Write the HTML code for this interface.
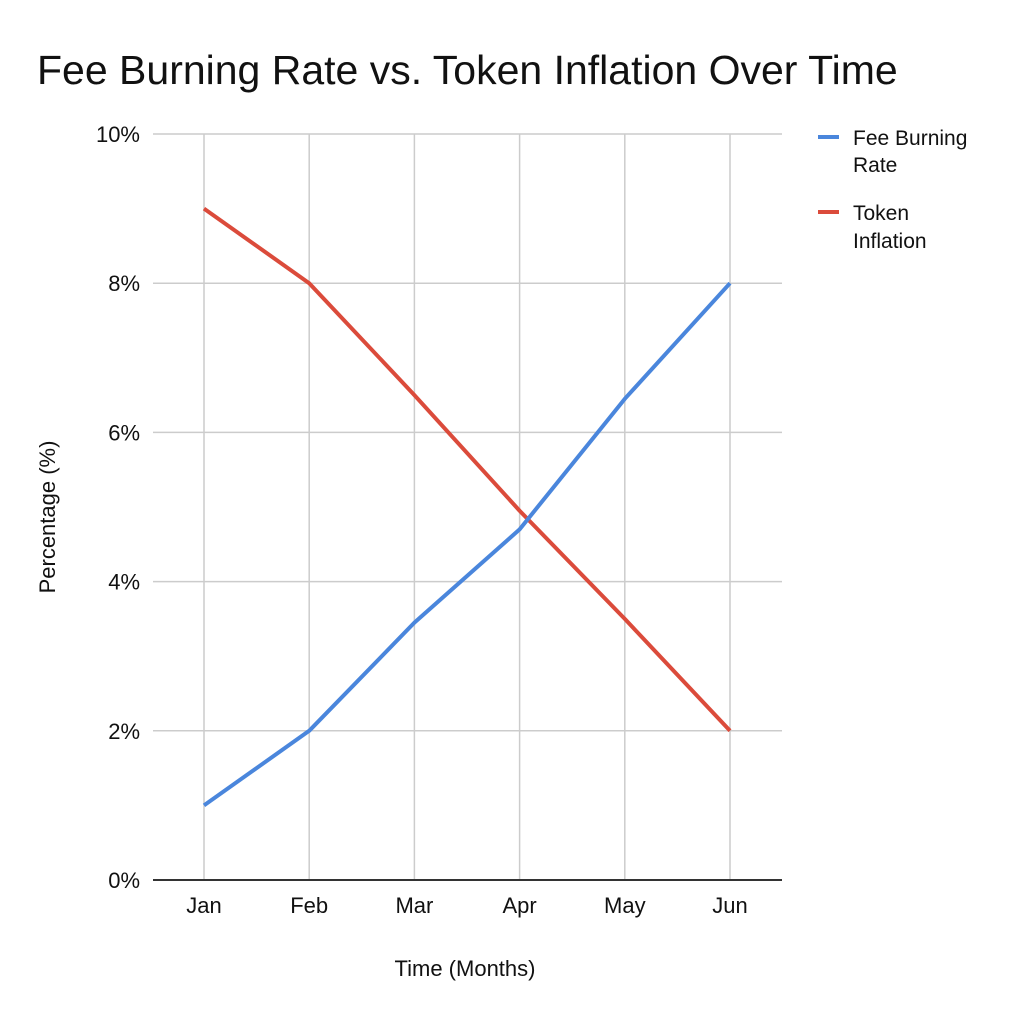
<!DOCTYPE html>
<html><head><meta charset="utf-8"><style>
body{margin:0;background:#fff;}
svg text{font-family:"Liberation Sans",Arial,sans-serif;fill:#111;}
</style></head><body>
<svg id="chart" width="1024" height="1024" xmlns="http://www.w3.org/2000/svg">
<rect width="1024" height="1024" fill="#fff"/>
<text x="37" y="84" font-size="41">Fee Burning Rate vs. Token Inflation Over Time</text>
<g id="grid"></g>
<g id="series"></g>
<text transform="translate(55,517) rotate(-90)" text-anchor="middle" font-size="22">Percentage (%)</text>
<text x="465" y="976" text-anchor="middle" font-size="22">Time (Months)</text>
<g>
<line x1="818" y1="137" x2="839" y2="137" stroke="#4a86dc" stroke-width="4"/>
<text x="853" y="145" font-size="21">Fee Burning</text>
<text x="853" y="172" font-size="21">Rate</text>
<line x1="818" y1="212" x2="839" y2="212" stroke="#db4b3b" stroke-width="4"/>
<text x="853" y="220" font-size="21">Token</text>
<text x="853" y="248" font-size="21">Inflation</text>
</g>
</svg>
<script>
const categories=["Jan","Feb","Mar","Apr","May","Jun"];
const feeValues=[1,2,3.45,4.7,6.45,8];
const tokenValues=[9,8,6.5,4.95,3.5,2];
const yTicks=[0,2,4,6,8,10];
const yTickLabels=["0%","2%","4%","6%","8%","10%"];
const NS="http://www.w3.org/2000/svg";
const x0=204,xStep=105.2,plotL=153,plotR=782,yBase=880,yTop=134,yMax=10;
const xs=i=>x0+i*xStep;
const ys=v=>yBase-(v/yMax)*(yBase-yTop);
const grid=document.getElementById('grid'),ser=document.getElementById('series');
function mk(tag,attrs,parent){const e=document.createElementNS(NS,tag);for(const k in attrs)e.setAttribute(k,attrs[k]);parent.appendChild(e);return e;}
categories.forEach((c,i)=>{
 const l=mk('line',{x1:xs(i),x2:xs(i),y1:yTop,y2:yBase,stroke:'#cccccc','stroke-width':1.5},grid);
 
 
 const t=mk('text',{x:xs(i),y:913,'text-anchor':'middle','font-size':22},grid);t.textContent=c;
 
 
});
yTicks.forEach((v,i)=>{
 const l=mk('line',{x1:plotL,x2:plotR,y1:ys(v),y2:ys(v),stroke:v===0?'#333':'#cccccc','stroke-width':v===0?2:1.5},grid);
 
 
 const t=mk('text',{x:140,y:ys(v)+8,'text-anchor':'end','font-size':22},grid);t.textContent=yTickLabels[i];
 
 
});
function line(vals,color,name){
 const p=mk('polyline',{points:vals.map((v,i)=>xs(i)+','+ys(v)).join(' '),fill:'none',stroke:color,'stroke-width':4,'stroke-linejoin':'round'},ser);
 
 
}
line(tokenValues,'#db4b3b','token-inflation-line');
line(feeValues,'#4a86dc','fee-burning-line');
</script>
</body></html>
